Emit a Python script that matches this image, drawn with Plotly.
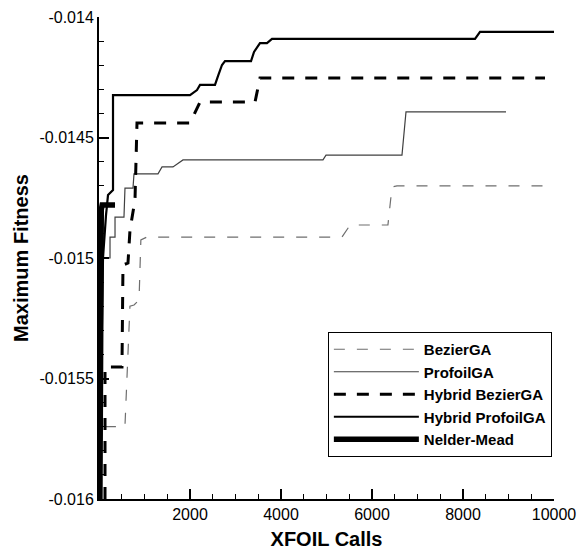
import plotly.graph_objects as go

# ---- data ----
bezier_x = [130, 570, 680, 770, 880, 920, 1055, 5340, 5520, 6350, 6440, 6550, 9800]
bezier_y = [-0.01570, -0.01570, -0.01520, -0.015195, -0.015174, -0.014925, -0.014913,
            -0.014913, -0.014863, -0.014863, -0.014705, -0.014701, -0.014701]

profoil_x = [88, 242, 242, 352, 352, 549, 571, 747, 769, 1297, 1385, 1626, 1846, 4923, 4989, 6659, 6747, 8945]
profoil_y = [-0.01500, -0.01500, -0.014913, -0.014913, -0.01483, -0.01483, -0.01471, -0.01471,
             -0.014651, -0.014651, -0.014622, -0.014622, -0.014593, -0.014593, -0.014573,
             -0.014573, -0.014394, -0.014394]

hyb_bezier_x = [132, 132, 505, 527, 637, 681, 791, 835, 2000, 2220, 3429, 3538, 9802]
hyb_bezier_y = [-0.01600, -0.015452, -0.015452, -0.015029, -0.015021, -0.014884, -0.014759,
                -0.01444, -0.01444, -0.014353, -0.014353, -0.014253, -0.014253]

hyb_profoil_x = [20, 60, 88, 154, 176, 198, 308, 308, 2000, 2154, 2220, 2549, 2615, 2703,
                 2769, 3341, 3407, 3538, 3692, 3802, 8264, 8374, 10000]
hyb_profoil_y = [-0.01580, -0.01520, -0.01500, -0.014822, -0.01478, -0.014739, -0.014718,
                 -0.014324, -0.014324, -0.014303, -0.014282, -0.014282, -0.014245, -0.014199,
                 -0.014183, -0.014183, -0.014145, -0.014108, -0.014108, -0.014091, -0.014091,
                 -0.014062, -0.014062]

nelder_x = [20, 25, 35, 50, 70, 352]
nelder_y = [-0.01600, -0.01550, -0.01500, -0.01480, -0.01478, -0.01478]

x_ticks = [2000, 4000, 6000, 8000, 10000]
x_ticktext = ["2000", "4000", "6000", "8000", "10000"]
y_ticks = [-0.016, -0.0155, -0.015, -0.0145, -0.014]
y_ticktext = ["-0.016", "-0.0155", "-0.015", "-0.0145", "-0.014"]

FONT = "Arial, Liberation Sans, sans-serif"

fig = go.Figure()
fig.add_trace(go.Scatter(x=bezier_x, y=bezier_y, mode="lines", name="BezierGA",
                         line=dict(color="#6e6e6e", width=1.2, dash="11px,12px")))
fig.add_trace(go.Scatter(x=profoil_x, y=profoil_y, mode="lines", name="ProfoilGA",
                         line=dict(color="#404040", width=1.2)))
fig.add_trace(go.Scatter(x=hyb_bezier_x, y=hyb_bezier_y, mode="lines", name="Hybrid BezierGA",
                         line=dict(color="black", width=3, dash="12px,11px")))
fig.add_trace(go.Scatter(x=hyb_profoil_x, y=hyb_profoil_y, mode="lines", name="Hybrid ProfoilGA",
                         line=dict(color="black", width=2.2)))
fig.add_trace(go.Scatter(x=nelder_x, y=nelder_y, mode="lines", name="Nelder-Mead",
                         line=dict(color="black", width=5.5)))

fig.update_layout(
    width=579, height=550,
    margin=dict(l=99, r=25, t=17, b=51),
    paper_bgcolor="white", plot_bgcolor="white",
    font=dict(family=FONT, color="black", size=16),
    showlegend=True,
    legend=dict(x=0.503, y=0.3465, xanchor="left", yanchor="top",
                bordercolor="black", borderwidth=1, bgcolor="white",
                font=dict(family=FONT, size=15, color="black", weight="bold"),
                itemwidth=85, tracegroupgap=0),
)
fig.update_xaxes(
    range=[0, 10000], tickvals=x_ticks, ticktext=x_ticktext, ticks="inside", ticklen=10, tickwidth=2,
    tickcolor="black", showline=True, linewidth=2, linecolor="black",
    showgrid=False, zeroline=False, automargin=False,
    tickfont=dict(family=FONT, size=16),
    minor=dict(tick0=0, dtick=500, ticks="inside", ticklen=5, tickwidth=1,
               tickcolor="black", showgrid=False),
    title=dict(text="XFOIL Calls", font=dict(family=FONT, size=20, weight="bold"), standoff=10),
)
fig.update_yaxes(
    range=[-0.016, -0.014], tickvals=y_ticks, ticktext=y_ticktext, ticks="inside",
    ticklen=10, tickwidth=2, tickcolor="black", showline=True, linewidth=2,
    linecolor="black", showgrid=False, zeroline=False, automargin=False,
    tickfont=dict(family=FONT, size=16),
    minor=dict(tick0=-0.016, dtick=0.0001, ticks="inside", ticklen=5, tickwidth=1,
               tickcolor="black", showgrid=False),
    title=dict(text="Maximum Fitness", font=dict(family=FONT, size=20, weight="bold"), standoff=6),
)

fig.write_html("out.html")
